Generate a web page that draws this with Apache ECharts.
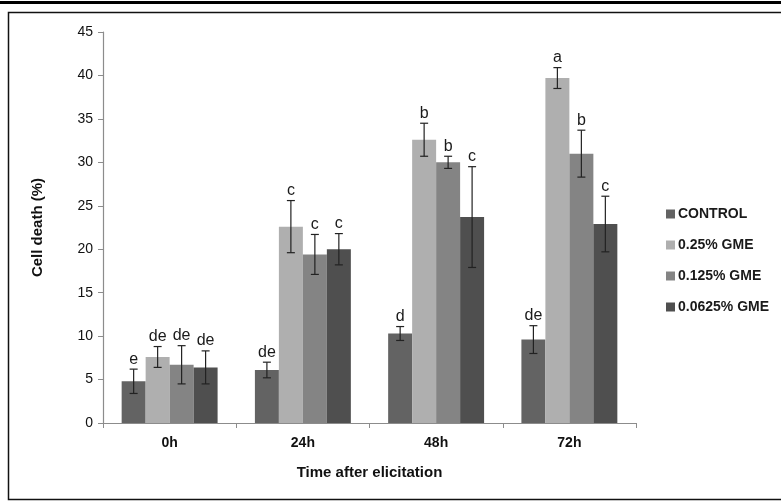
<!DOCTYPE html>
<html>
<head>
<meta charset="utf-8">
<script src="https://cdn.jsdelivr.net/npm/echarts@6/dist/echarts.min.js"></script>
<style>
  html, body { margin: 0; padding: 0; background: #fff; }
  #box1 { width: 781px; height: 501px; }
</style>
</head>
<body>
<div id="box1"></div>
<script>
// time points
var categories = ['0h', '24h', '48h', '72h'];
var seriesNames = ['CONTROL', '0.25% GME', '0.125% GME', '0.0625% GME'];

// cell death (%) per treatment
var control = [4.8, 6.1, 10.3, 9.6];
var gme025 = [7.6, 22.6, 32.6, 39.7];
var gme0125 = [6.7, 19.4, 30.0, 31.0];
var gme00625 = [6.4, 20.0, 23.7, 22.9];

// error bars (+/-)
var errControl = [1.4, 0.9, 0.8, 1.6];
var err025 = [1.2, 3.0, 1.9, 1.2];
var err0125 = [2.2, 2.3, 0.7, 2.7];
var err00625 = [1.9, 1.8, 5.8, 3.2];

// significance letters
var letControl = ['e', 'de', 'd', 'de'];
var let025 = ['de', 'c', 'b', 'a'];
var let0125 = ['de', 'c', 'b', 'b'];
var let00625 = ['de', 'c', 'c', 'c'];

var yTicks = [0, 5, 10, 15, 20, 25, 30, 35, 40, 45];

var values = [control, gme025, gme0125, gme00625];
var errors = [errControl, err025, err0125, err00625];
var letters = [letControl, let025, let0125, let00625];
var colors = ['#636363', '#afafaf', '#848484', '#4f4f4f'];
var catGap = 0.28;

var chart = echarts.init(document.getElementById('box1'));

function errRender(s) {
    return function (params, api) {
        var cat = api.value(0), val = api.value(1), err = api.value(2);
        var bw = api.size([1, 0])[0];
        var barW = bw * (1 - catGap) / 4;
        var c = api.coord([cat, val]);
        var x = c[0] - bw * (1 - catGap) / 2 + barW * (s + 0.5);
        var top = api.coord([cat, val + err])[1];
        var bot = api.coord([cat, val - err])[1];
        var st = { stroke: '#222', lineWidth: 1.2 };
        return {
            type: 'group',
            children: [
                { type: 'line', shape: { x1: x, y1: top, x2: x, y2: bot }, style: st },
                { type: 'line', shape: { x1: x - 4, y1: top, x2: x + 4, y2: top }, style: st },
                { type: 'line', shape: { x1: x - 4, y1: bot, x2: x + 4, y2: bot }, style: st },
                {
                    type: 'text',
                    style: {
                        x: x, y: top - 2,
                        text: letters[s][params.dataIndex],
                        fill: '#1a1a1a',
                        font: '16px "Liberation Sans", Arial, sans-serif',
                        textAlign: 'center',
                        textVerticalAlign: 'bottom'
                    }
                }
            ]
        };
    };
}

var series = [];
for (var i = 0; i < 4; i++) {
    series.push({
        name: seriesNames[i],
        type: 'bar',
        data: values[i],
        barGap: '0%',
        barCategoryGap: (catGap * 100) + '%',
        itemStyle: { color: colors[i] },
        animation: false
    });
}
for (var j = 0; j < 4; j++) {
    var d = [];
    for (var k = 0; k < categories.length; k++) {
        d.push([k, values[j][k], errors[j][k]]);
    }
    series.push({
        type: 'custom',
        renderItem: errRender(j),
        data: d,
        z: 5,
        silent: true,
        animation: false
    });
}

var option = {
    animation: false,
    backgroundColor: '#fff',
    textStyle: { fontFamily: '"Liberation Sans", Arial, sans-serif' },
    graphic: [
        { type: 'rect', shape: { x: 0, y: 1, width: 781, height: 3 }, style: { fill: '#000' } },
        { type: 'rect', shape: { x: 8.5, y: 12.5, width: 780, height: 487 }, style: { fill: null, stroke: '#111', lineWidth: 1.5 } }
    ],
    legend: {
        orient: 'vertical',
        left: 661,
        top: 202,
        itemWidth: 9,
        itemHeight: 9,
        itemGap: 17,
        icon: 'rect',
        data: seriesNames,
        textStyle: { fontSize: 14, fontWeight: 'bold', color: '#1a1a1a', padding: [0, 0, 0, -2] }
    },
    grid: { left: 103, right: 145, top: 32, bottom: 78 },
    xAxis: {
        type: 'category',
        data: categories,
        axisLine: { lineStyle: { color: '#8c8c8c', width: 1.2 } },
        axisTick: { show: true, length: 5, lineStyle: { color: '#8c8c8c' } },
        axisLabel: { fontSize: 14, fontWeight: 'bold', color: '#111', margin: 13 },
        name: 'Time after elicitation',
        nameLocation: 'middle',
        nameGap: 42,
        nameTextStyle: { fontSize: 15, fontWeight: 'bold', color: '#111' }
    },
    yAxis: {
        type: 'value',
        min: yTicks[0],
        max: yTicks[yTicks.length - 1],
        interval: 5,
        axisLine: { show: true, lineStyle: { color: '#8c8c8c', width: 1.2 } },
        axisTick: { show: true, length: 5, lineStyle: { color: '#8c8c8c' } },
        splitLine: { show: false },
        axisLabel: { fontSize: 14, color: '#111', margin: 10 },
        name: 'Cell death (%)',
        nameLocation: 'middle',
        nameGap: 58,
        nameRotate: 90,
        nameTextStyle: { fontSize: 15, fontWeight: 'bold', color: '#111' }
    },
    series: series
};

chart.setOption(option);
</script>
</body>
</html>
